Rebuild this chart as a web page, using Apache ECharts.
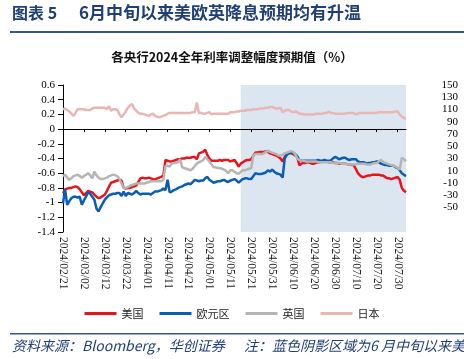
<!DOCTYPE html>
<html><head><meta charset="utf-8">
<script src="https://cdn.jsdelivr.net/npm/echarts/dist/echarts.min.js"></script>
<style>html,body{margin:0;padding:0;background:#fff}#c{width:464px;height:359px}</style>
</head><body><div id="c"></div>
<script>
// Categories: calendar days 2024/02/21 .. 2024/08/03
var startDate = [2024, 2, 21];
var dayCount = 165;
var categories = [];
(function(){
  var d = new Date(Date.UTC(startDate[0], startDate[1]-1, startDate[2]));
  for (var i = 0; i < dayCount; i++) {
    var m = d.getUTCMonth()+1, dd = d.getUTCDate();
    categories.push(d.getUTCFullYear() + '/' + (m<10?'0':'') + m + '/' + (dd<10?'0':'') + dd);
    d.setUTCDate(dd+1);
  }
})();
var shadeStart = '2024/05/16';
var shadeEnd = '2024/08/03';

var seriesNames = ['美国','欧元区','英国','日本'];

var us = [-0.87,-0.82,-0.81,-0.80,-0.80,-0.79,-0.78,-0.79,-0.82,-0.86,
-0.90,-0.87,-0.84,-0.85,-0.86,-0.89,-0.92,-0.94,-0.93,-0.91,
-0.89,-0.84,-0.78,-0.73,-0.72,-0.71,-0.70,-0.69,-0.70,-0.80,
-0.81,-0.80,-0.80,-0.79,-0.78,-0.77,-0.72,-0.67,-0.66,-0.67,
-0.67,-0.66,-0.67,-0.68,-0.69,-0.67,-0.66,-0.65,-0.63,-0.42,
-0.43,-0.44,-0.44,-0.43,-0.42,-0.41,-0.41,-0.40,-0.40,-0.39,
-0.39,-0.39,-0.38,-0.38,-0.41,-0.33,-0.32,-0.31,-0.28,-0.35,
-0.40,-0.43,-0.43,-0.43,-0.43,-0.42,-0.43,-0.42,-0.42,-0.42,
-0.44,-0.43,-0.42,-0.46,-0.51,-0.47,-0.45,-0.43,-0.42,-0.42,
-0.41,-0.36,-0.32,-0.32,-0.31,-0.31,-0.31,-0.30,-0.31,-0.33,
-0.34,-0.35,-0.36,-0.38,-0.40,-0.44,-0.38,-0.34,-0.32,-0.33,
-0.34,-0.36,-0.38,-0.49,-0.47,-0.46,-0.46,-0.45,-0.46,-0.47,
-0.47,-0.46,-0.45,-0.45,-0.44,-0.44,-0.44,-0.45,-0.45,-0.45,
-0.46,-0.46,-0.47,-0.47,-0.47,-0.47,-0.48,-0.48,-0.49,-0.49,
-0.54,-0.60,-0.63,-0.65,-0.65,-0.64,-0.63,-0.63,-0.62,-0.62,
-0.62,-0.62,-0.63,-0.63,-0.65,-0.67,-0.67,-0.68,-0.67,-0.66,
-0.65,-0.69,-0.80,-0.84,-0.86];

var eu = [-1.01,-0.82,-1.03,-0.98,-0.94,-0.92,-0.92,-0.93,-0.92,-1.03,
-0.97,-0.92,-0.86,-0.88,-0.92,-0.96,-1.08,-1.12,-1.06,-1.01,
-0.96,-0.93,-0.90,-0.89,-0.88,-0.88,-0.87,-0.87,-0.91,-0.85,
-0.91,-0.87,-0.88,-0.89,-0.87,-0.84,-0.87,-0.89,-0.88,-0.88,
-0.88,-0.88,-0.89,-0.87,-0.85,-0.85,-0.84,-0.83,-0.81,-0.83,
-0.69,-0.86,-0.85,-0.83,-0.82,-0.80,-0.79,-0.78,-0.76,-0.75,
-0.74,-0.75,-0.72,-0.69,-0.70,-0.71,-0.70,-0.70,-0.67,-0.65,
-0.69,-0.71,-0.73,-0.72,-0.71,-0.71,-0.70,-0.69,-0.71,-0.72,
-0.70,-0.69,-0.68,-0.70,-0.73,-0.70,-0.68,-0.67,-0.67,-0.68,
-0.68,-0.64,-0.60,-0.61,-0.61,-0.61,-0.60,-0.59,-0.56,-0.58,
-0.55,-0.58,-0.60,-0.61,-0.62,-0.66,-0.40,-0.35,-0.33,-0.32,
-0.32,-0.34,-0.37,-0.42,-0.43,-0.43,-0.43,-0.43,-0.43,-0.43,
-0.43,-0.43,-0.42,-0.43,-0.43,-0.42,-0.43,-0.43,-0.43,-0.40,
-0.38,-0.39,-0.41,-0.40,-0.39,-0.39,-0.41,-0.42,-0.41,-0.41,
-0.41,-0.44,-0.45,-0.45,-0.45,-0.47,-0.46,-0.46,-0.45,-0.45,
-0.44,-0.45,-0.47,-0.48,-0.49,-0.49,-0.50,-0.50,-0.50,-0.52,
-0.53,-0.56,-0.60,-0.62,-0.64];

var uk = [-0.64,-0.62,-0.66,-0.69,-0.67,-0.64,-0.63,-0.62,-0.64,-0.66,
-0.64,-0.62,-0.60,-0.63,-0.67,-0.58,-0.63,-0.66,-0.68,-0.68,
-0.67,-0.66,-0.64,-0.63,-0.62,-0.63,-0.64,-0.68,-0.74,-0.80,
-0.80,-0.79,-0.77,-0.76,-0.75,-0.74,-0.74,-0.74,-0.74,-0.74,
-0.73,-0.72,-0.71,-0.71,-0.71,-0.71,-0.71,-0.71,-0.69,-0.50,
-0.50,-0.51,-0.47,-0.46,-0.46,-0.45,-0.41,-0.52,-0.53,-0.54,
-0.55,-0.56,-0.54,-0.50,-0.47,-0.45,-0.44,-0.42,-0.38,-0.41,
-0.44,-0.48,-0.52,-0.52,-0.53,-0.53,-0.54,-0.55,-0.57,-0.60,
-0.56,-0.56,-0.58,-0.60,-0.61,-0.58,-0.56,-0.56,-0.55,-0.54,
-0.53,-0.35,-0.34,-0.34,-0.34,-0.34,-0.33,-0.31,-0.29,-0.31,
-0.32,-0.33,-0.34,-0.36,-0.36,-0.35,-0.33,-0.32,-0.31,-0.30,
-0.31,-0.34,-0.40,-0.42,-0.43,-0.43,-0.44,-0.44,-0.44,-0.44,
-0.44,-0.44,-0.45,-0.45,-0.45,-0.45,-0.45,-0.45,-0.45,-0.46,
-0.46,-0.46,-0.46,-0.47,-0.47,-0.47,-0.48,-0.48,-0.48,-0.48,
-0.48,-0.47,-0.47,-0.47,-0.47,-0.48,-0.48,-0.48,-0.47,-0.46,
-0.46,-0.44,-0.42,-0.44,-0.46,-0.47,-0.48,-0.49,-0.50,-0.51,
-0.53,-0.55,-0.39,-0.41,-0.44];

var jp = [0.27,0.28,0.26,0.24,0.21,0.18,0.22,0.27,0.27,0.27,
0.27,0.26,0.26,0.26,0.28,0.29,0.29,0.29,0.29,0.29,
0.29,0.27,0.31,0.25,0.27,0.27,0.26,0.20,0.16,0.20,
0.24,0.29,0.32,0.34,0.28,0.25,0.22,0.21,0.21,0.20,
0.19,0.18,0.20,0.21,0.18,0.17,0.16,0.17,0.18,0.19,
0.21,0.22,0.22,0.22,0.22,0.22,0.22,0.22,0.22,0.22,
0.22,0.22,0.23,0.23,0.36,0.22,0.22,0.21,0.21,0.22,
0.23,0.20,0.21,0.21,0.21,0.21,0.21,0.21,0.21,0.21,
0.23,0.23,0.23,0.24,0.24,0.25,0.25,0.25,0.26,0.26,
0.26,0.27,0.27,0.27,0.28,0.28,0.28,0.29,0.29,0.30,
0.30,0.29,0.28,0.28,0.29,0.23,0.25,0.26,0.26,0.24,
0.23,0.24,0.23,0.21,0.21,0.20,0.20,0.20,0.20,0.20,
0.20,0.21,0.21,0.21,0.21,0.22,0.22,0.24,0.22,0.22,
0.21,0.21,0.21,0.21,0.21,0.21,0.22,0.22,0.22,0.22,
0.20,0.21,0.22,0.22,0.22,0.22,0.22,0.22,0.22,0.22,
0.22,0.23,0.23,0.23,0.23,0.23,0.23,0.23,0.23,0.24,
0.24,0.20,0.17,0.15,0.14];

var colors = ['#e8141c', '#0a5db5', '#b5b5b5', '#e8b6b5'];
var leftTicks = {min: -1.4, max: 0.6, interval: 0.2};
var rightTicks = {min: -90, max: 150, interval: 20, shownFrom: -50};

var chart = echarts.init(document.getElementById('c'), null, {renderer: 'canvas'});
var numFont = '"Liberation Serif", "Times New Roman", serif';
var cjkFont = '"Noto Sans CJK SC", sans-serif';
var dataSets = [us, eu, uk, jp];

var series = dataSets.map(function(d, i){
  return {
    name: seriesNames[i], type: 'line', data: d, symbol: 'none', z: 3,
    xAxisIndex: 0, yAxisIndex: 0,
    lineStyle: {width: 2.5, color: colors[i]}, itemStyle: {color: colors[i]},
    emphasis: {disabled: true}
  };
});
series.unshift({
  name: 'shade', type: 'line', data: [], xAxisIndex: 0, yAxisIndex: 0, z: 1, symbol: 'none',
  markArea: {silent: true, itemStyle: {color: '#dce6f1'},
    data: [[{xAxis: shadeStart}, {xAxis: shadeEnd}]]}
});

chart.setOption({
  animation: false,
  color: colors,
  grid: {left: 63, right: 58, top: 85, bottom: 127},
  legend: {
    data: seriesNames, bottom: 35, left: 'center',
    icon: 'rect', itemWidth: 32, itemHeight: 3, itemGap: 16,
    textStyle: {fontSize: 11, color: '#222', fontFamily: cjkFont}
  },
  xAxis: [{
    type: 'category', data: categories, boundaryGap: false, position: 'bottom',
    axisLine: {show: false, onZero: false}, axisTick: {show: false},
    axisLabel: {interval: 9, rotate: -90, fontSize: 11.5, color: '#222', fontFamily: numFont, margin: 5}
  }, {
    type: 'category', data: categories, boundaryGap: false, position: 'bottom', z: 5,
    axisLine: {show: true, onZero: true, onZeroAxisIndex: 0, lineStyle: {color: '#000', width: 1}},
    axisTick: {show: true, interval: 9, length: 3, lineStyle: {color: '#000'}},
    axisLabel: {show: false}
  }],
  yAxis: [{
    type: 'value', position: 'left', min: leftTicks.min, max: leftTicks.max, interval: leftTicks.interval,
    axisLine: {show: true, lineStyle: {color: '#000'}},
    axisTick: {show: true, length: 5, lineStyle: {color: '#000'}},
    splitLine: {show: false},
    axisLabel: {fontSize: 11, color: '#000', fontFamily: numFont, margin: 8}
  }, {
    type: 'value', position: 'right', min: rightTicks.min, max: rightTicks.max, interval: rightTicks.interval,
    axisLine: {show: false}, axisTick: {show: false}, splitLine: {show: false},
    axisLabel: {fontSize: 11, color: '#000', fontFamily: numFont, align: 'right', margin: 52,
      formatter: function(v){ return v < rightTicks.shownFrom ? '' : String(v); }}
  }],
  graphic: [
    {type: 'text', left: 12, top: 5, style: {text: '图表 5', font: 'bold 16px ' + cjkFont, fill: '#1f3f77'}},
    {type: 'text', left: 79, top: 4, style: {text: '6月中旬以来美欧英降息预期均有升温', font: 'bold 17px ' + cjkFont, fill: '#1f3f77'}},
    {type: 'rect', shape: {x: 10, y: 31, width: 454, height: 2}, style: {fill: '#2f5597'}},
    {type: 'text', left: 'center', top: 51, style: {text: '各央行2024全年利率调整幅度预期值（%）', font: 'bold 12.5px ' + cjkFont, fill: '#111'}},
    {type: 'rect', shape: {x: 10, y: 333, width: 454, height: 1.5}, style: {fill: '#2f5597'}},
    {type: 'text', left: 12, top: 339, style: {text: '资料来源：Bloomberg，华创证券', font: 'italic 14px ' + cjkFont, fill: '#1f3f77'}},
    {type: 'text', left: 244, top: 339, style: {text: '注：蓝色阴影区域为6 月中旬以来美', font: 'italic 14px ' + cjkFont, fill: '#1f3f77'}}
  ],
  series: series
});
</script></body></html>
